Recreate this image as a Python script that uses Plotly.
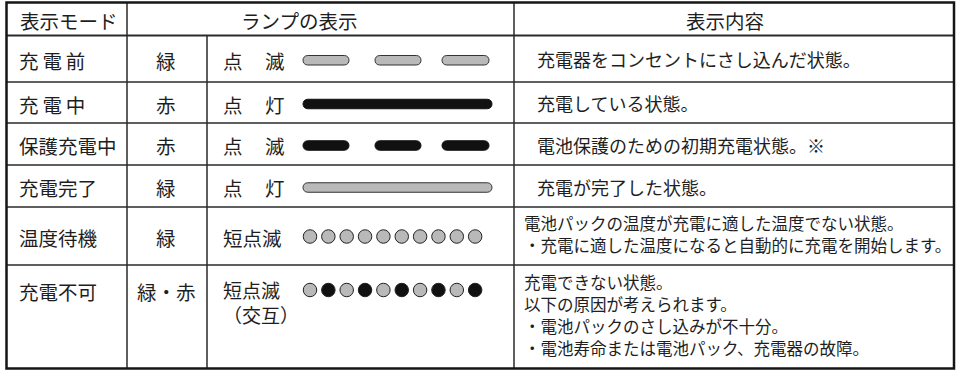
import plotly.graph_objects as go

# ---------------- data ----------------
headers = ["表示モード", "ランプの表示", "表示内容"]
modes = ["充電前", "充電中", "保護充電中", "充電完了", "温度待機", "充電不可"]
lamp_colors = ["緑", "赤", "赤", "緑", "緑", "緑・赤"]
lamp_labels = ["点　滅", "点　灯", "点　滅", "点　灯", "短点滅", "短点滅\n（交互）"]
lamp_patterns = ["blink", "on", "blink", "on", "short", "short_alt"]
lamp_tones = ["gray", "black", "black", "gray", "gray", "gray"]
descriptions = [
    "充電器をコンセントにさし込んだ状態。",
    "充電している状態。",
    "電池保護のための初期充電状態。※",
    "充電が完了した状態。",
    "電池パックの温度が充電に適した温度でない状態。\n・充電に適した温度になると自動的に充電を開始します。",
    "充電できない状態。\n以下の原因が考えられます。\n・電池パックのさし込みが不十分。\n・電池寿命または電池パック、充電器の故障。",
]
n_blinks = 3
n_short = 10

# ---------------- layout geometry (pixels) ----------------
W, H = 957, 372
col_x = [6.5, 127, 207, 514, 954]
row_y = [2.5, 35.5, 82, 123, 165, 207, 265, 368.5]
FONT = "Noto Sans CJK JP, Noto Sans CJK SC, sans-serif"
INK = "#1e1e1e"
GRAY = "#b9b9b9"
BLACK = "#111111"

fig = go.Figure()
shapes = []
ann = []

def line(x0, y0, x1, y1, w=1.5, c="#2a2a2a"):
    shapes.append(dict(type="line", xref="x", yref="y", x0=x0, y0=y0, x1=x1, y1=y1,
                       line=dict(color=c, width=w)))

# inner horizontal lines
for y in row_y[1:-1]:
    line(col_x[0], y, col_x[-1], y, w=2 if y == row_y[1] else 1.5)
# inner vertical lines
line(col_x[1], row_y[0], col_x[1], row_y[-1])
line(col_x[2], row_y[1], col_x[2], row_y[-1])
line(col_x[3], row_y[0], col_x[3], row_y[-1])
# outer border
shapes.append(dict(type="rect", xref="x", yref="y", x0=col_x[0], y0=row_y[0],
                   x1=col_x[-1], y1=row_y[-1], line=dict(color="#151515", width=2.5)))

def text(x, y, s, size, anchor="center", va="middle"):
    ann.append(dict(x=x, y=y, xref="x", yref="y", text=s, showarrow=False,
                    xanchor=anchor, yanchor=va, align="left",
                    font=dict(family=FONT, size=size, color=INK)))

# headers
hy = (row_y[0] + row_y[1]) / 2 + 1
text(18, hy, headers[0], 19.5, "left")
text(299, hy, headers[1], 19.5)
text(725, hy, headers[2], 19.5)

def capsule(x0, x1, cy, h, fill, edge):
    r = h / 2
    k = r * 4 / 3
    p = (f"M {x0 + r},{cy - r} L {x1 - r},{cy - r} "
         f"C {x1 - r + k},{cy - r} {x1 - r + k},{cy + r} {x1 - r},{cy + r} "
         f"L {x0 + r},{cy + r} "
         f"C {x0 + r - k},{cy + r} {x0 + r - k},{cy - r} {x0 + r},{cy - r} Z")
    shapes.append(dict(type="path", xref="x", yref="y", path=p, fillcolor=fill,
                       line=dict(color=edge, width=1)))

blink_x = [(303, 349), (375, 421), (442, 489)]
for i, mode in enumerate(modes):
    top, bot = row_y[i + 1], row_y[i + 2]
    cy = (top + bot) / 2 + 1.5
    ty = cy if i < 5 else top + 26
    label = "\u2009".join(mode) if len(mode) == 3 else mode
    text(17, ty, label, 19.5, "left")
    text(166, ty, lamp_colors[i], 19.5)
    lab = lamp_labels[i]
    if lab.startswith("点"):
        text(233, ty, lab[0], 19.5)
        text(275, ty, lab[-1], 19.5)
    elif "\n" in lab:
        parts = lab.split("\n")
        fs = 19
        text(221, ty - 1 + fs * 1.3 * (len(parts) - 1) / 2, "<br>".join(parts), fs, "left")
    else:
        text(221, ty, lab, 19.5, "left")
    fill = GRAY if lamp_tones[i] == "gray" else BLACK
    edge = "#333333" if lamp_tones[i] == "gray" else BLACK
    pat = lamp_patterns[i]
    if pat == "blink":
        for (a, b) in blink_x[:n_blinks]:
            capsule(a, b, cy, 9.5, fill, edge)
    elif pat == "on":
        capsule(303, 492, cy, 9.5, fill, edge)
    else:
        xs = [310 + k * 18.35 for k in range(n_short)]
        if pat == "short":
            cols = [GRAY] * n_short
        else:
            cols = [GRAY if k % 2 == 0 else BLACK for k in range(n_short)]
        fig.add_trace(go.Scatter(
            x=xs, y=[ty - 1] * n_short, mode="markers", hoverinfo="skip",
            marker=dict(size=13.5, color=cols, line=dict(color="#222222", width=1))))
    d_lines = descriptions[i].split("\n")
    if i < 4:
        text(535, cy - 1, d_lines[0], 18, "left")
    else:
        step = 22
        mid = (top + bot) / 2 - 2
        first = mid - step * (len(d_lines) - 1) / 2
        for j, dl in enumerate(d_lines):
            text(522, first + j * step, dl, 16.5, "left")

fig.update_layout(
    width=W, height=H, margin=dict(l=0, r=0, t=0, b=0),
    paper_bgcolor="white", plot_bgcolor="white", showlegend=False,
    xaxis=dict(range=[0, W], visible=False, fixedrange=True),
    yaxis=dict(range=[H, 0], visible=False, fixedrange=True),
    shapes=shapes, annotations=ann,
)
fig.write_html("out.html", config={"displayModeBar": False},
               post_script="document.body.style.margin='0';document.body.style.overflow='hidden';")
